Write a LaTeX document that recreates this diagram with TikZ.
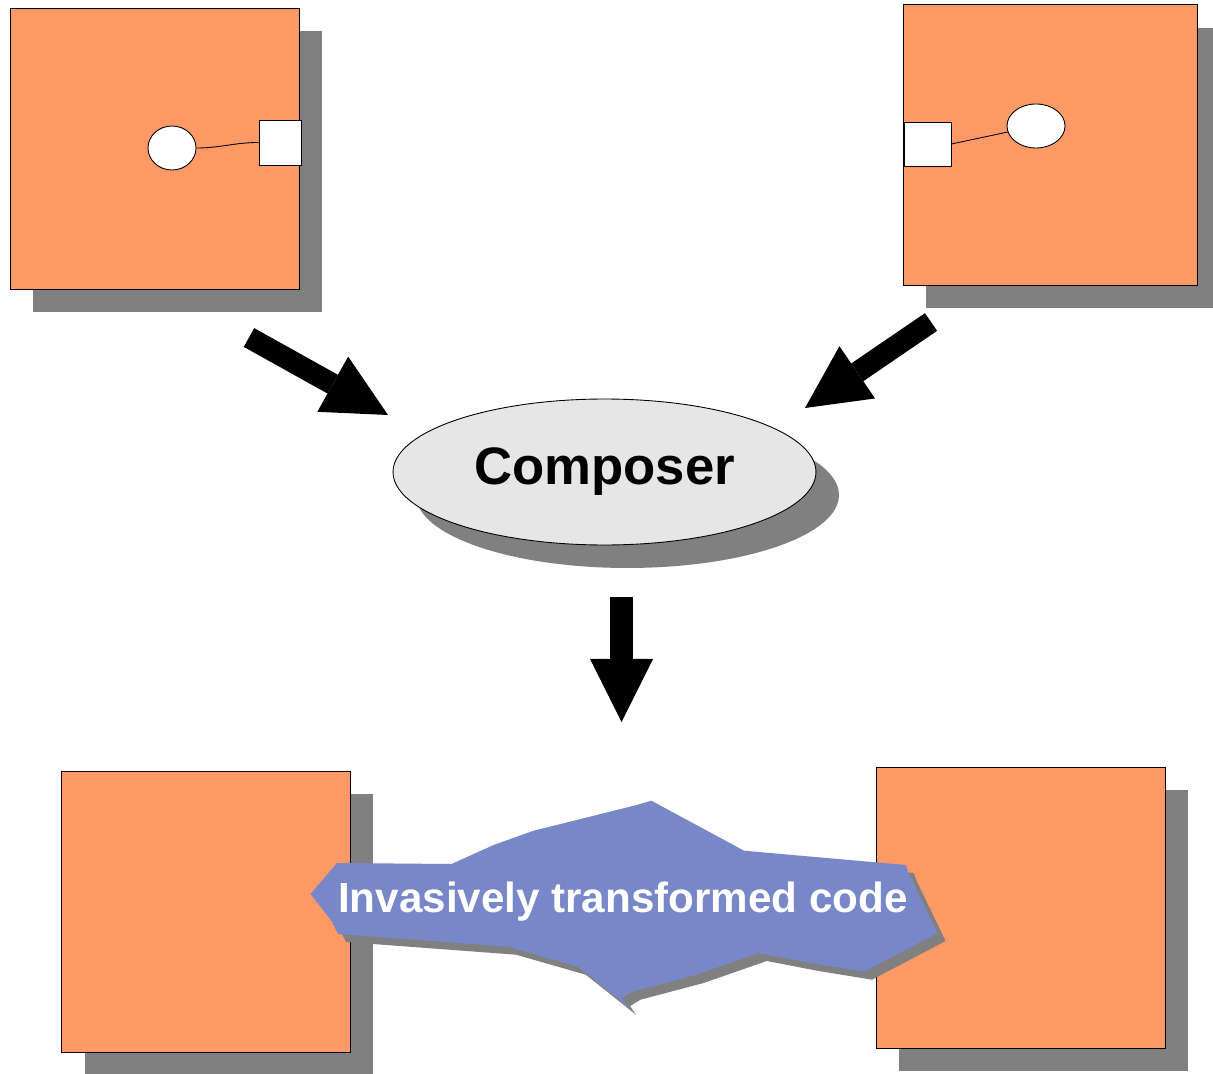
\documentclass[tikz,border=0pt]{standalone}
\usepackage{fontspec}
\setmainfont{Liberation Sans}
\usetikzlibrary{arrows.meta,positioning,shapes.geometric,shadows}
\definecolor{BoxOrange}{RGB}{255,153,102}
\definecolor{ShadowGray}{RGB}{128,128,128}
\definecolor{ComposerGray}{RGB}{230,230,230}
\definecolor{CodeBlue}{RGB}{120,135,200}
\tikzset{
  boxshadow/.style={drop shadow={shadow xshift=0.46cm,shadow yshift=-0.46cm,
    fill=ShadowGray,opacity=1}},
  component/.style={draw=black,fill=BoxOrange,line width=0.5pt,
    minimum width=5.78cm,minimum height=5.62cm,inner sep=0pt,boxshadow},
  port/.style={draw=black,fill=white,line width=0.5pt,inner sep=0pt},
  ball/.style={ellipse,draw=black,fill=white,line width=0.5pt,inner sep=0pt},
  composer/.style={ellipse,draw=black,fill=ComposerGray,line width=0.5pt,
    minimum width=8.46cm,minimum height=2.92cm,inner sep=0pt,boxshadow,
    font=\fontsize{30}{36}\selectfont\bfseries},
  codeblob/.style={fill=CodeBlue,drop shadow={shadow xshift=0.16cm,
    shadow yshift=-0.16cm,fill=ShadowGray,opacity=1}},
  codetext/.style={text=white,inner sep=0pt,anchor=base,
    font=\fontsize{24}{29}\selectfont\bfseries},
  arrow/.style={line width=12.2pt,
    -{Triangle[length=36pt,width=36pt,line width=0pt]}}
}

\begin{document}
\begin{tikzpicture}[x=0.02cm,y=-0.02cm]
      \useasboundingbox (0,0) rectangle (1213,1074);
      % components before composition
      \node[component] (inA) at (154.5,148.5) {};
      \node[component,minimum width=5.88cm] (inB) at (1050,145) {};
      \node[ball,minimum width=0.96cm,minimum height=0.88cm] (ballA) at (172,148) {};
      \node[port,minimum width=0.84cm,minimum height=0.9cm] (portA) at (280,142.5) {};
      \draw[line width=0.5pt] (ballA.east) to[out=0,in=180] (portA.west);
      \node[port,minimum width=0.94cm,minimum height=0.88cm] (portB) at (927.5,144) {};
      \node[ball,minimum width=1.16cm,minimum height=0.88cm] (ballB) at (1036,126) {};
      \draw[line width=0.5pt] (portB.east) -- (ballB);
      % the composer
      \node[composer] (composer) at (604.5,472) {Composer};
      \coordinate (fromA) at (249,337.5);
      \coordinate (toA) at (388,415);
      \coordinate (fromB) at (931,322);
      \coordinate (toB) at (805,408);
      \coordinate (fromC) at (621.5,597);
      \coordinate (toC) at (621.5,722);
      \draw[arrow] (fromA) -- (toA);
      \draw[arrow] (fromB) -- (toB);
      \draw[arrow,line width=13pt] (fromC) -- (toC);
      % components after composition
      \node[component] (outA) at (206,911.5) {};
      \node[component] (outB) at (1020.5,907.5) {};
      \fill[codeblob] (310.5,894) -- (337,863) -- (451.5,864) -- (493.6,845)
        -- (533.6,830.7) -- (636.7,805) -- (651.4,800.7) -- (744,850.7)
        -- (906,865) -- (908,871.7) -- (937.6,933) -- (864,971.7)
        -- (809,962.7) -- (758.8,953) -- (695.6,975) -- (632.5,991.7)
        -- (622,998) -- (628,1006.7) -- (577.8,966.7) -- (508,946.7)
        -- (338,934) -- (331.6,921) -- cycle;
      \node[codetext] (code) at (623,912) {Invasively transformed code};
    \end{tikzpicture}
\end{document}
